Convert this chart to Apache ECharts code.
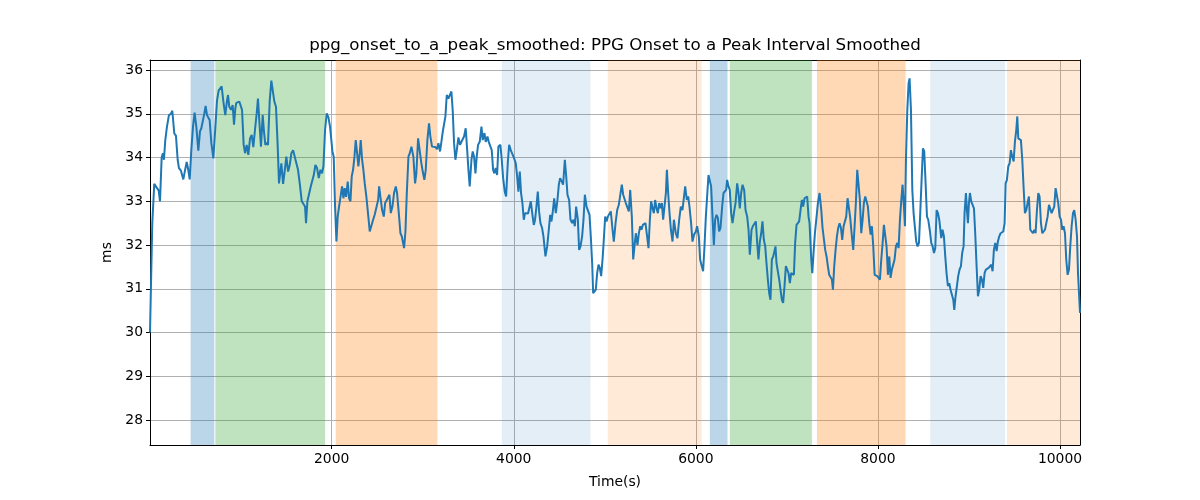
<!DOCTYPE html>
<html>
<head>
<meta charset="utf-8">
<script src="https://cdn.jsdelivr.net/npm/echarts@6/dist/echarts.min.js"></script>
<style>html,body{margin:0;padding:0;background:#fff}#c{width:1200px;height:500px}</style>
</head>
<body>
<div id="c"></div>
<script>
// ---- data (time in s, value in ms) ----
const tA = [4,29,51,81,99,114,132,146,157,172, 190,212,234,249,271,289,308,322,344,370, 388,407,421,440,458,476,494,513,535,553, 568,586,601,615,630,648,659,678,700,722, 740,758,777,791,810,831,850,861,875,894, 912,927,941,952,971,985,1000,1015,1033,1048, 1066,1084,1103,1121,1139,1157,1176,1190,1209,1223, 1242,1256,1271,1286,1300,1319,1337,1352,1370,1388, 1407,1421];
const vA = [30.0,32.5,33.4,33.3,33.25,33.0,34.0,34.1,33.95,34.4, 34.7,34.97,35.0,35.07,34.55,34.5,33.95,33.76,33.7,33.5, 33.7,33.9,33.76,33.5,34.17,34.7,35.03,34.7,34.16,34.6, 34.67,34.63,35.01,35.18,34.97,34.97,34.86,34.33,33.98,34.7, 35.3,35.53,35.5,35.63,35.28,34.97,35.3,35.43,35.16,35.09, 35.2,34.75,35.12,35.25,35.24,35.28,35.3,35.09,34.29,34.1, 34.29,34.06,34.44,34.52,34.24,34.63,35.01,35.35,34.7,34.25, 34.97,34.6,34.29,34.34,34.29,35.3,35.76,35.8,35.28,35.16, 34.25,33.41];
const tB = [1447,1466,1484,1502,1521,1539,1557,1576,1594,1612, 1630,1649,1671,1689,1707,1718,1733,1751,1770,1788, 1803,1821,1839,1858,1876,1894,1909,1927,1945,1964, 1982,1997,2008,2022,2037,2052,2066,2081,2099,2114, 2129,2143,2158,2176,2191,2206,2220,2235,2250,2264, 2279,2293,2308,2319,2334,2348,2363,2381,2400,2418, 2436,2455,2473,2491,2510,2521,2535,2554,2572,2587, 2605,2619,2634,2649,2667,2685,2704,2718,2737,2755, 2770,2784,2795,2810,2825,2843,2858,2876];
const vB = [33.87,33.4,33.7,34.02,33.68,33.83,34.1,34.17,34.21,33.87, 33.72,33.41,33.0,33.03,32.88,32.5,33.0,33.03,33.34,33.38, 33.6,33.83,33.76,33.53,33.72,33.64,33.8,34.63,35.01,34.92, 34.7,34.67,34.14,34.02,32.88,32.08,32.65,32.88,32.88,33.34, 33.07,33.3,33.1,33.45,33.07,33.0,33.57,33.72,34.02,34.4, 34.1,33.8,34.1,34.4,33.95,33.72,33.41,33.1,32.7,32.31, 32.31,32.58,32.7,32.73,33.03,33.34,33.1,32.8,32.65,32.96, 33.03,33.03,33.15,32.73,32.88,33.19,33.34,33.19,32.73,32.27, 32.2,32.16,31.93,32.31,33.19,34.02,34.1,34.25];
const tC = [2897,2916,2930,2949,2967,2985,3000,3018,3033,3051, 3069,3084,3102,3121,3139,3157,3172,3190,3205,3220, 3234,3249,3264,3282,3300,3315,3330,3344,3359,3374, 3392,3410,3425,3439,3454,3472,3487,3502,3516,3535, 3549,3564,3579,3593,3608,3626,3645,3659,3678,3692, 3711,3725,3743,3758,3773,3787,3802,3817,3831,3853, 3868,3883,3901,3916,3934,3949,3967,3985,4004,4022, 4037,4051,4066,4080,4095,4110,4124,4143,4157,4172, 4187,4205,4220,4234,4249,4264,4278,4293,4311,4326];
const vC = [34.02,33.41,33.64,34.44,34.46,33.87,33.68,33.49,33.72,34.4, 34.78,34.48,34.25,34.21,34.24,34.19,34.33,34.14,34.36,34.59, 34.63,34.94,35.43,35.35,35.39,35.51,35.05,34.33,33.95,34.17, 34.46,34.29,34.36,34.33,34.48,34.67,34.21,33.72,33.34,33.95, 34.14,34.02,33.64,34.02,34.29,34.36,34.71,34.4,34.56,34.36, 34.48,34.36,34.4,34.17,33.72,33.64,33.76,33.6,34.25,34.29, 33.95,33.53,33.22,33.11,33.87,34.29,34.17,34.19,33.98,33.87, 33.57,33.22,33.68,33.19,32.96,32.58,32.73,32.75,32.72,32.69, 33.0,32.69,32.46,32.58,32.88,33.22,32.77,32.5,32.39,32.2];
const tD = [4348,4367,4381,4400,4414,4429,4444,4462,4480,4495, 4509,4528,4542,4561,4575,4590,4608,4623,4641,4656, 4671,4685,4704,4718,4733,4751,4766,4781,4799,4817, 4832,4846,4861,4872,4887,4901,4916,4931,4945,4960, 4975,4989,5004,5019,5033,5052,5066,5085,5099,5118, 5136,5154,5169,5187,5202,5216,5231,5249,5264,5279, 5297,5312,5326,5341,5359,5374,5389,5403,5418,5433, 5447,5462,5480,5495,5509,5524,5539,5553,5568,5583, 5597,5612,5627,5641,5656,5671,5682,5696,5711,5726, 5744,5759];
const vD = [31.74,31.97,32.27,32.69,32.54,32.77,33.07,32.73,33.03,33.38, 33.53,33.45,33.38,33.95,33.6,33.15,33.03,32.58,32.5,32.58, 32.43,32.88,32.58,31.89,31.97,32.2,32.58,33.15,32.88,32.92, 32.69,32.2,31.59,30.9,30.87,30.98,31.36,31.55,31.48,31.29, 31.67,32.12,32.65,32.54,32.65,32.69,32.77,32.35,32.08,32.5, 32.8,32.92,32.92,33.38,33.15,33.19,32.96,32.92,32.77,33.26, 32.65,31.67,31.97,32.27,32.0,32.27,32.43,32.35,32.46,32.43, 32.5,32.46,31.93,32.58,33.0,32.84,32.73,33.03,32.84,32.73, 32.96,32.84,32.96,32.58,32.58,33.19,33.72,33.19,32.73,32.35, 32.08,32.58];
const tE = [5780,5798,5817,5835,5853,5868,5883,5901,5916,5930, 5948,5963,5981,6000,6014,6033,6047,6066,6080,6095, 6110,6124,6139,6154,6168,6183,6198,6212,6227,6242, 6256,6271,6289,6304,6318,6333,6344,6359,6373,6388, 6403,6421,6436,6454,6469,6483,6498,6513,6531,6546, 6564,6579,6593,6612,6626,6644,6659,6674,6688,6703, 6718,6732,6747,6762,6776,6791,6806,6820,6835,6850, 6864,6875,6886,6901,6916,6930,6945,6959,6974,6989, 7003,7018,7033,7047,7062,7077,7091,7106,7121,7135, 7150,7165,7179,7194,7209,7223,7238];
const vE = [32.27,32.16,32.58,32.88,32.8,32.77,33.34,33.03,33.11,32.88, 32.5,32.08,32.24,32.31,32.43,32.2,31.67,31.51,31.4,31.97, 32.65,33.11,33.6,33.6,33.34,32.65,32.0,32.58,32.69,32.62, 32.31,32.39,32.88,33.19,33.22,33.26,33.49,33.34,33.26,32.73, 32.5,32.77,32.96,33.41,33.19,32.84,33.19,33.38,33.26,32.8, 32.65,32.35,31.78,32.35,32.43,32.39,32.54,32.05,31.67,32.08, 32.27,32.54,32.12,31.97,31.59,31.21,30.9,30.75,31.67,31.74, 31.71,31.97,31.59,31.63,31.21,30.98,30.75,30.68,31.06,31.52, 31.55,31.36,31.13,31.36,31.4,31.32,32.05,32.46,32.5,32.54, 32.8,33.03,32.88,33.07,33.11,33.11,32.65];
const tF = [7249,7268,7279,7293,7308,7323,7341,7359,7378,7392, 7407,7421,7436,7451,7465,7480,7495,7506,7520,7535, 7550,7564,7579,7594,7608,7623,7638,7652,7667,7682, 7696,7711,7729,7744,7758,7773,7788,7802,7817,7832, 7846,7861,7876,7890,7905,7920,7934,7949,7964,7978, 7993,8008,8022,8037,8052,8066,8081,8095,8110,8125, 8139,8154,8169,8183,8198,8213,8227,8242,8257,8271, 8286,8297,8308,8323,8337,8348,8363,8378,8392,8407, 8421,8436,8451,8465,8480,8495,8509,8524,8539,8553, 8572,8586,8601,8616,8630,8645,8660,8674];
const vF = [32.5,31.67,31.36,31.82,32.27,32.58,32.96,33.19,32.8,32.39, 32.35,31.89,31.74,31.51,31.32,31.29,31.21,30.98,31.51,31.89, 32.2,32.39,32.5,32.39,32.12,32.43,32.43,32.65,33.07,33.11, 32.62,32.27,31.89,32.43,32.96,33.72,33.76,33.03,32.27,32.58, 32.96,33.11,33.15,32.88,32.5,32.24,32.43,31.97,31.32,31.36, 31.29,31.32,31.21,31.67,32.05,32.46,32.43,31.97,31.32,31.74, 31.25,31.44,31.48,31.67,31.97,32.05,31.93,32.58,33.03,33.38, 32.88,32.43,33.95,35.09,35.7,35.81,35.09,33.26,32.73,32.73, 32.08,31.97,32.05,32.73,33.49,34.21,34.14,33.41,32.65,32.58, 32.31,32.05,31.97,31.82,31.93,32.8,32.73,32.58];
const tG = [8696,8710,8725,8740,8754,8769,8784,8798,8813,8828, 8839,8853,8868,8882,8897,8912,8926,8941,8952,8967, 8978,8989,9000,9011,9025,9040,9055,9069,9084,9099, 9113,9128,9143,9157,9172,9186,9201,9216,9230,9245, 9260,9274,9289,9304,9318,9333,9348,9362,9377,9392, 9403,9417,9432,9447,9461,9476,9491,9505,9520,9531, 9542,9556,9571,9586,9600,9615,9630,9644,9659,9674, 9688,9703,9718,9732,9747,9762,9776,9791,9806,9820, 9835,9849,9864,9879,9893,9908,9923,9937,9952,9967, 9981,9996,10011,10025,10040,10055,10069,10084,10099,10113, 10128,10143,10157,10172,10187,10198,10220];
const vG = [32.16,32.35,32.2,31.74,31.36,31.06,31.13,30.98,31.02,30.75, 30.52,30.83,31.06,31.29,31.44,31.52,31.82,31.97,32.73,33.19, 32.8,32.5,32.96,33.19,33.0,32.92,32.84,32.27,31.52,30.83, 30.98,31.29,31.21,31.02,31.36,31.44,31.4,31.48,31.44,31.55, 31.4,31.89,32.05,31.86,32.08,32.2,32.27,32.27,32.31,32.5, 33.41,33.49,33.8,33.87,34.17,34.02,33.91,34.36,34.63,34.94, 34.44,34.48,34.4,33.95,33.34,32.73,32.8,32.96,33.11,32.35, 32.35,32.27,32.35,32.27,32.8,33.19,33.11,32.5,32.27,32.24, 32.35,32.31,32.65,32.92,32.88,32.73,32.73,32.88,33.3,33.34, 32.96,32.65,32.58,32.35,32.43,32.27,31.67,31.32,31.44,31.97, 32.43,32.73,32.8,32.58,32.2,31.36,30.45];

// shaded intervals
const bandStarts = [450, 722, 2044, 3868, 5033, 6154, 6374, 7330, 8575, 9418];
const bandEnds   = [711, 1928, 3161, 4843, 6063, 6348, 7275, 8304, 9396, 10220];
const bandKinds  = ['blue', 'green', 'orange', 'lightblue', 'lightorange', 'blue', 'green', 'orange', 'lightblue', 'lightorange'];

const xTicks = [2000, 4000, 6000, 8000, 10000];
const yTicks = [28, 29, 30, 31, 32, 33, 34, 35, 36];
const xMin = 4, xMax = 10220, yMin = 27.43, yMax = 36.23;

const times = [].concat(tA, tB, tC, tD, tE, tF, tG);
const values = [].concat(vA, vB, vC, vD, vE, vF, vG);

const kindColor = {
  blue: 'rgba(31,119,180,0.3)',
  green: 'rgba(44,160,44,0.3)',
  orange: 'rgba(255,127,14,0.3)',
  lightblue: 'rgba(31,119,180,0.12)',
  lightorange: 'rgba(255,127,14,0.16)'
};

const FONT = 'DejaVu Sans';
const chart = echarts.init(document.getElementById('c'), null, {renderer: 'canvas'});
const near = (v, arr) => arr.some(t => Math.abs(v - t) < 1e-6);

chart.setOption({
  animation: false,
  backgroundColor: '#fff',
  graphic: [{
    type: 'text', x: 615, y: 46,
    style: {text: 'ppg_onset_to_a_peak_smoothed: PPG Onset to a Peak Interval Smoothed',
      font: '16.7px "DejaVu Sans"', fill: '#000', textAlign: 'center', textVerticalAlign: 'middle'}
  }],
  grid: {left: 150, right: 120, top: 60, bottom: 55, containLabel: false},
  xAxis: [{
    type: 'value', min: xMin, max: xMax, splitNumber: 5,
    name: 'Time(s)', nameLocation: 'middle', nameGap: 30,
    nameTextStyle: {fontFamily: FONT, fontSize: 13.9, color: '#000'},
    axisLine: {show: true, lineStyle: {color: '#000', width: 1}},
    axisTick: {show: true, length: 4, customValues: xTicks, lineStyle: {color: '#000', width: 1}},
    axisLabel: {fontFamily: FONT, fontSize: 13.9, color: '#000', margin: 7, customValues: xTicks,
      formatter: v => near(v, xTicks) ? String(v) : ''},
    splitLine: {show: true, lineStyle: {color: '#b0b0b0', width: 1}}
  }, {
    type: 'value', position: 'top', min: xMin, max: xMax,
    axisLine: {show: true, onZero: false, lineStyle: {color: '#000', width: 1}},
    axisTick: {show: false}, axisLabel: {show: false}, splitLine: {show: false}
  }],
  yAxis: [{
    type: 'value', min: yMin, max: yMax, splitNumber: 8,
    name: 'ms', nameLocation: 'middle', nameGap: 34,
    nameTextStyle: {fontFamily: FONT, fontSize: 13.9, color: '#000'},
    axisLine: {show: true, onZero: false, lineStyle: {color: '#000', width: 1}},
    axisTick: {show: true, length: 4, customValues: yTicks, lineStyle: {color: '#000', width: 1}},
    axisLabel: {fontFamily: FONT, fontSize: 13.9, color: '#000', margin: 7, customValues: yTicks,
      formatter: v => near(v, yTicks) ? String(Math.round(v)) : ''},
    splitLine: {show: true, lineStyle: {color: '#b0b0b0', width: 1}}
  }, {
    type: 'value', position: 'right', min: yMin, max: yMax,
    axisLine: {show: true, onZero: false, lineStyle: {color: '#000', width: 1}},
    axisTick: {show: false}, axisLabel: {show: false}, splitLine: {show: false}
  }],
  series: [{
    type: 'line', data: [], z: 1, silent: true,
    markArea: {
      silent: true,
      data: bandStarts.map((s, i) => [
        {xAxis: s, itemStyle: {color: kindColor[bandKinds[i]]}},
        {xAxis: bandEnds[i]}
      ])
    }
  }, {
    type: 'line', z: 5,
    data: times.map((t, i) => [t, values[i]]),
    showSymbol: false, symbol: 'none',
    lineStyle: {color: '#1f77b4', width: 2},
    itemStyle: {color: '#1f77b4'}
  }]
});
</script>
</body>
</html>
